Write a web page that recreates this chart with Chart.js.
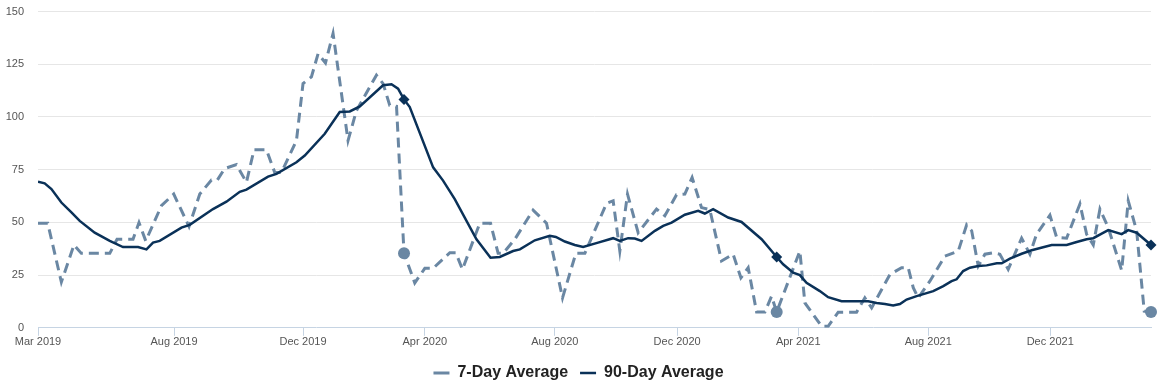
<!DOCTYPE html>
<html>
<head>
<meta charset="utf-8">
<script src="https://cdn.jsdelivr.net/npm/chart.js@4/dist/chart.umd.min.js"></script>
<style>
  html, body { margin: 0; padding: 0; background: #fff; }
  #wrap { width: 1171px; height: 391px; }
</style>
</head>
<body>
<div id="wrap"><canvas id="chart"></canvas></div>
<script>
// Colors
const COLORS = {
  slate: '#6a87a3',
  navy:  '#0a3158',
  grid:  '#e6e6e6',
  axis:  '#c6d4e3',
  text:  '#555555',
};

// x values are days since the start of the axis (late Mar 2019)
const tickDays   = [0, 132.7, 258.5, 377.3, 504.1, 623.4, 741.5, 868.3, 987.3];
const tickLabels = ['Mar 2019', 'Aug 2019', 'Dec 2019', 'Apr 2020', 'Aug 2020', 'Dec 2020', 'Apr 2021', 'Aug 2021', 'Dec 2021'];
const xMax = 1085.6;

// ─── 7-day average ───
const days7 = [0, 9.5, 22.8, 35.1, 42.3, 70, 77.1, 92.7, 98.5, 105.1, 120.4, 132.4, 147.3, 157.8, 169.2, 175, 182, 193.6, 203.3, 210.7,
  222.8, 230.9, 237.5, 252.1, 258.5, 266.7, 273.2, 280.4, 287.8, 302.4, 310.6, 330.1, 336.6, 343.1, 349.7, 357, 367.5, 377.3, 385.4, 401.7,
  407.5, 414, 430.9, 441.4, 448.8, 453.7, 465.1, 482.9, 496, 511.6, 524.6, 533.4, 554.5, 561, 567.5, 575, 585.4, 603.3, 611.4, 622.8,
  630.9, 638, 647.2, 655.3, 666.7, 678, 685.6, 692.7, 700.9, 709, 715.5, 720.5, 743.1, 748, 764.3, 770.7, 780.5, 798.4, 806.5, 813.1,
  831, 842.3, 848.8, 853.7, 858.5, 869.9, 884.6, 897.6, 905.8, 910.7, 917.1, 923.6, 931.7, 938.2, 946.3, 959.4, 967.5, 974, 987, 993.6,
  1003.3, 1016.3, 1022.8, 1029.3, 1035.8, 1043.9, 1057, 1063.4, 1071.6, 1079, 1085.6];
const vals7 = [49.6, 49.6, 21.7, 39.3, 35.3, 35.3, 42, 42, 49.9, 41.2, 57.9, 63.4, 48, 63.4, 70.1, 70.1, 75.5, 77.4, 69, 84.4,
  84.4, 73.7, 73.7, 88.8, 115.8, 119, 130, 125.6, 139.6, 88.8, 103, 119.8, 115.8, 105.5, 105, 35.4, 21.3, 28.2, 28.2, 35.6,
  35.6, 27.7, 49.6, 49.6, 35.3, 35.3, 42, 55.8, 49.6, 14.2, 35.3, 35.3, 59, 60.2, 36.4, 63.4, 45.1, 56.3, 53.1, 63.1,
  63.4, 71.3, 57, 56, 31.7, 34.9, 23.7, 28.5, 7.5, 7.5, 15, 7.5, 36.4, 11.8, 0.7, 0.7, 7.4, 7.4, 14.2, 9.4,
  25.3, 28.5, 28.5, 19, 14.2, 22.1, 34, 36.4, 48.8, 46, 29.3, 34.9, 35.6, 34.9, 27.7, 42.5, 34.9, 44.4, 53.4, 42.8,
  42.5, 58.7, 44.4, 39.3, 56.3, 47.5, 27.2, 60.2, 46, 7.9, 7.5];

// ─── 90-day average ───
const days90 = [0, 6.5, 13.1, 22.8, 32.6, 40.7, 55.3, 70, 82.9, 97.6, 105.8, 112.2, 118.7, 139.9, 148, 170.7, 183.8, 196.8, 203.3, 224.4,
  232.6, 252.1, 260.2, 279.7, 294.3, 304.1, 313.9, 336.6, 344.8, 351.2, 357, 362.6, 385.4, 395.1, 406.5, 427.7, 441.4, 450.4, 463.4, 470,
  484.6, 499.2, 505.1, 513.9, 523.6, 531.7, 546.3, 561, 567.5, 575.6, 582.1, 588.7, 601.7, 609.8, 618, 630.9, 643.9, 650.4, 658.5, 673.2,
  686.2, 705.8, 720.5, 726.8, 736.6, 743.1, 749.6, 762.6, 770.7, 783.8, 809.8, 818, 826.1, 834.1, 840.7, 847.2, 857, 873.2, 883, 891.1,
  896, 902.4, 909, 917.1, 925.3, 935.2, 940, 948, 959.4, 969.2, 988.7, 1003.3, 1013.1, 1022.8, 1029.3, 1037.5, 1043.9, 1057, 1063.4, 1071.6,
  1085.6];
const vals90 = [69.3, 68.5, 65.8, 59.4, 54.7, 50.7, 45.1, 41.2, 38.3, 38.3, 37.2, 40.4, 41.2, 47.5, 48.8, 56.3, 59.8, 64.5, 65.5, 71.7,
  73, 78.5, 81.7, 92, 102.3, 102.6, 105, 115, 115.5, 113.4, 108.3, 104.7, 76.1, 69.8, 61, 42, 33.2, 33.6, 36.4, 37.2,
  41.5, 43.6, 43.1, 40.9, 39.3, 38.3, 40.4, 42.5, 41.2, 42.5, 42.3, 41.2, 46, 48.3, 49.9, 53.6, 55.5, 54.2, 56.3, 52.3,
  50.2, 42, 33.6, 30.1, 26.1, 25, 21.3, 17.4, 14.5, 12.6, 12.6, 11.8, 11.3, 10.6, 11.3, 13.4, 15, 17.4, 19.8, 22.1,
  23, 26.9, 28.5, 29.3, 29.6, 30.6, 30.6, 32.8, 35.1, 36.8, 39.3, 39.3, 40.7, 42, 42.5, 44.7, 46.3, 44.4, 46.3, 45.1,
  39.3];

// yearly comparison markers
const markerDays = [357, 720.5, 1085.6];
const marker7    = [35.4, 7.5, 7.5];
const marker90   = [108.3, 33.6, 39.3];

const pts = (xs, ys) => xs.map((x, i) => ({ x: x, y: ys[i] }));

Chart.defaults.font.family = "'Liberation Sans', Arial, sans-serif";
Chart.defaults.font.size = 11;
Chart.defaults.color = COLORS.text;

new Chart(document.getElementById('chart'), {
  type: 'line',
  data: {
    datasets: [
      {
        label: '7-Day Average',
        data: pts(days7, vals7),
        borderColor: COLORS.slate,
        backgroundColor: COLORS.slate,
        borderWidth: 3,
        borderDash: [10, 6],
        pointRadius: 0,
        tension: 0,
        order: 3,
      },
      {
        label: '90-Day Average',
        data: pts(days90, vals90),
        borderColor: COLORS.navy,
        backgroundColor: COLORS.navy,
        borderWidth: 2.5,
        pointRadius: 0,
        tension: 0,
        order: 2,
      },
      {
        label: '7-Day marker',
        data: pts(markerDays, marker7),
        showLine: false,
        pointStyle: 'circle',
        pointRadius: 6,
        pointBackgroundColor: COLORS.slate,
        pointBorderWidth: 0,
        clip: false,
        order: 1,
      },
      {
        label: '90-Day marker',
        data: pts(markerDays, marker90),
        showLine: false,
        pointStyle: 'rectRot',
        pointRadius: 5.5,
        pointBackgroundColor: COLORS.navy,
        pointBorderWidth: 0,
        clip: false,
        order: 0,
      },
    ]
  },
  options: {
    responsive: true,
    maintainAspectRatio: false,
    animation: false,
    layout: { padding: { left: 6, right: 20, top: 11.5, bottom: 0 } },
    plugins: {
      tooltip: { enabled: false },
      legend: {
        position: 'bottom',
        labels: {
          usePointStyle: true,
          pointStyle: 'line',
          pointStyleWidth: 16,
          boxHeight: 16,
          padding: 12,
          color: '#222222',
          font: { size: 16, weight: 'bold' },
          filter: (item) => item.datasetIndex < 2,
          sort: (a, b) => a.datasetIndex - b.datasetIndex,
        }
      }
    },
    scales: {
      x: {
        type: 'linear',
        min: 0,
        max: xMax,
        afterBuildTicks: (axis) => { axis.ticks = tickDays.map(v => ({ value: v })); },
        afterFit: (axis) => { axis.height += 4; },
        ticks: {
          autoSkip: false,
          maxRotation: 0,
          padding: 0,
          callback: (v, i) => tickLabels[i],
        },
        grid: {
          drawOnChartArea: false,
          drawTicks: true,
          tickLength: 8,
          color: COLORS.axis,
        },
        border: { color: COLORS.axis },
      },
      y: {
        min: 0,
        max: 150,
        ticks: { stepSize: 25, padding: 14 },
        afterFit: (axis) => {
          axis.width = 32;
          axis.paddingTop = 6;
          axis.paddingBottom = 6;
        },
        grid: {
          drawTicks: false,
          color: (ctx) => ctx.tick.value === 0 ? 'rgba(0,0,0,0)' : COLORS.grid,
        },
        border: { display: false },
      }
    }
  }
});
</script>
</body>
</html>
